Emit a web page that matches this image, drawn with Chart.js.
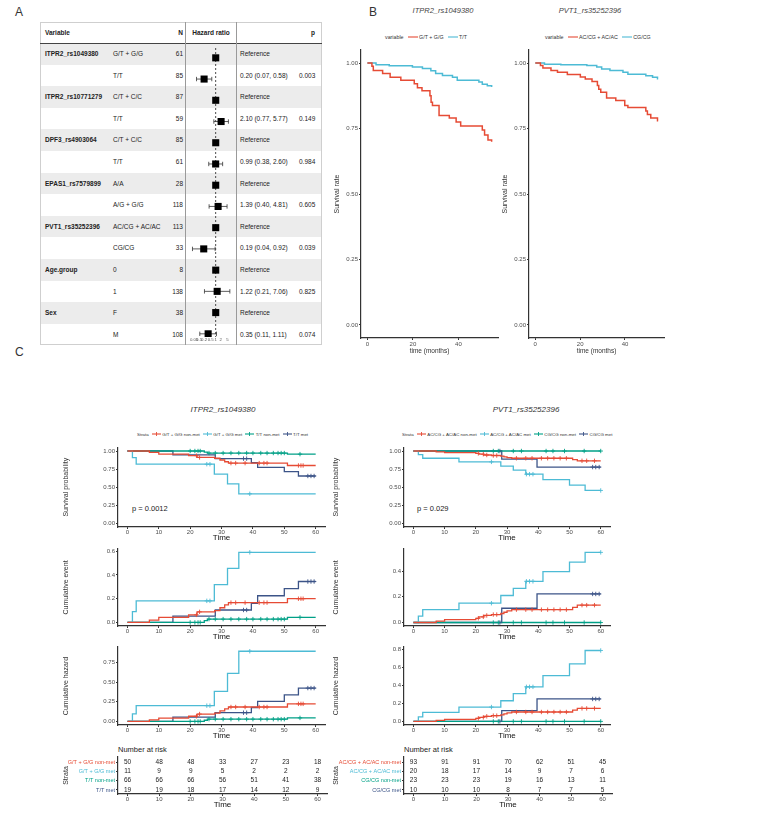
<!DOCTYPE html>
<html>
<head>
<meta charset="utf-8">
<script src="https://cdn.jsdelivr.net/npm/chart.js@4.4.1/dist/chart.umd.min.js"></script>
<style>
  html, body { margin: 0; padding: 0; background: #fff; }
  body { width: 767px; height: 818px; position: relative; overflow: hidden;
         font-family: "Liberation Sans", Arial, sans-serif; color: #222; }
  canvas, .t { position: absolute; }
  .t { white-space: nowrap; line-height: 1.2; }
  .box { position: absolute; }
  .leg { position: absolute; display: flex; align-items: center; white-space: nowrap; color: #333; }
  .sw { position: relative; display: inline-block; height: 6px; }
</style>
</head>
<body>
<div id="page"></div>
<canvas id="fp"></canvas>
<canvas id="bItpr"></canvas>
<canvas id="bPvt"></canvas>
<canvas id="cItprS"></canvas>
<canvas id="cPvtS"></canvas>
<canvas id="cItprE"></canvas>
<canvas id="cPvtE"></canvas>
<canvas id="cItprH"></canvas>
<canvas id="cPvtH"></canvas>
<canvas id="cItprR"></canvas>
<canvas id="cPvtR"></canvas>
<script>
// ---------- panel A: forest plot ----------
const fpVariable = ['ITPR2_rs1049380', '', 'ITPR2_rs10771279', '', 'DPF3_rs4903064', '', 'EPAS1_rs7579899', '',
                    'PVT1_rs35252396', '', 'Age.group', '', 'Sex', ''];
const fpLevel = ['G/T + G/G', 'T/T', 'C/T + C/C', 'T/T', 'C/T + C/C', 'T/T', 'A/A', 'A/G + G/G',
                 'AC/CG + AC/AC', 'CG/CG', '0', '1', 'F', 'M'];
const fpN = [61, 85, 87, 59, 85, 61, 28, 118, 113, 33, 8, 138, 38, 108];
const fpHR = [1, 0.20, 1, 2.10, 1, 0.99, 1, 1.39, 1, 0.19, 1, 1.22, 1, 0.35];
const fpLow = [null, 0.07, null, 0.77, null, 0.38, null, 0.40, null, 0.04, null, 0.21, null, 0.11];
const fpHigh = [null, 0.58, null, 5.77, null, 2.60, null, 4.81, null, 0.92, null, 7.06, null, 1.11];
const fpP = ['', '0.003', '', '0.149', '', '0.984', '', '0.605', '', '0.039', '', '0.825', '', '0.074'];
const fpTicks = [0.05, 0.1, 0.2, 0.5, 1, 2, 5];

// ---------- panel B: survival rate ----------
const bItprLabels = ['G/T + G/G', 'T/T'];
const bItprRedT = [0, 2, 2.6, 6.7, 10, 14.7, 20.6, 22, 24, 27.5, 28, 28.6, 31.5, 36, 39, 41, 50.5, 51.5, 53, 54.6];
const bItprRedV = [1, 0.988, 0.972, 0.96, 0.946, 0.934, 0.921, 0.906, 0.894, 0.875, 0.85, 0.838, 0.8, 0.79, 0.775, 0.76, 0.744, 0.725, 0.706, 0.70];
const bItprBlueT = [0, 3.8, 9.6, 19.8, 24.2, 27.9, 30, 33, 37.4, 39.5, 49, 50.5, 52.7, 54.6];
const bItprBlueV = [1, 0.994, 0.99, 0.985, 0.979, 0.971, 0.96, 0.953, 0.946, 0.934, 0.928, 0.919, 0.913, 0.909];
const bPvtLabels = ['AC/CG + AC/AC', 'CG/CG'];
const bPvtRedT = [0, 2.3, 3.4, 7, 9.9, 14.3, 20.1, 22.3, 25.3, 27.7, 28.3, 29.2, 31.8, 35.9, 39.9, 41.3, 49.3, 50, 51.5, 54.5, 54.8];
const bPvtRedV = [1, 0.991, 0.981, 0.972, 0.965, 0.956, 0.947, 0.939, 0.93, 0.914, 0.90, 0.889, 0.867, 0.857, 0.838, 0.83, 0.817, 0.804, 0.79, 0.78, 0.78];
const bPvtBlueT = [0, 4.1, 11.4, 23, 27.4, 29.6, 33.3, 39.1, 41.3, 49.3, 52.3, 54.5, 54.8];
const bPvtBlueV = [1, 0.996, 0.994, 0.991, 0.985, 0.977, 0.972, 0.965, 0.957, 0.952, 0.946, 0.94, 0.94];
const bXTicks = [0, 20, 40];
const bYTicks = [0, 0.25, 0.5, 0.75, 1];

// ---------- panel C: ITPR2_rs1049380 ----------
const cItprStrata = ['G/T + G/G non-met', 'G/T + G/G met', 'T/T non-met', 'T/T met'];
const cItprT = [
  [0, 7, 10, 19.5, 22.2, 27.8, 29.5, 31, 32.2, 51, 60],
  [0, 1.6, 2.8, 27.7, 31.9, 35.5, 60],
  [0, 24.5, 25.5, 51, 60],
  [0, 14.5, 28, 39.5, 41.5, 50, 54.5, 60]
];
const cItprSurv = [
  [1, 0.98, 0.958, 0.936, 0.911, 0.9, 0.876, 0.852, 0.833, 0.8, 0.8],
  [1, 0.909, 0.818, 0.682, 0.545, 0.409, 0.409],
  [1, 0.985, 0.972, 0.957, 0.957],
  [1, 0.947, 0.895, 0.838, 0.775, 0.715, 0.655, 0.655]
];
const cItprEvent = [
  [0, 0.02, 0.042, 0.064, 0.089, 0.1, 0.124, 0.148, 0.167, 0.2, 0.2],
  [0, 0.091, 0.182, 0.318, 0.455, 0.591, 0.591],
  [0, 0.015, 0.028, 0.043, 0.043],
  [0, 0.053, 0.105, 0.162, 0.225, 0.285, 0.345, 0.345]
];
const cItprHaz = [
  [0, 0.02, 0.043, 0.066, 0.094, 0.105, 0.134, 0.16, 0.183, 0.223, 0.223],
  [0, 0.095, 0.2, 0.38, 0.61, 0.89, 0.89],
  [0, 0.015, 0.029, 0.045, 0.045],
  [0, 0.054, 0.111, 0.177, 0.255, 0.336, 0.423, 0.423]
];
const cItprCens = [
  [22, 23, 33, 34.5, 37.5, 42, 43.5, 44.5, 54.5, 55.3, 56],
  [25.3, 26.3, 39],
  [20, 21.5, 22.5, 23.2, 26, 28, 30.5, 33, 35.5, 38, 40, 42.5, 44.5, 46.5, 48, 49, 50, 55],
  [37, 38, 57.5, 58.5, 59.5]
];
const cItprRisk = [[50, 48, 48, 33, 27, 23, 18], [11, 9, 9, 5, 2, 2, 2], [66, 66, 66, 56, 51, 41, 38], [19, 19, 18, 17, 14, 12, 9]];

// ---------- panel C: PVT1_rs35252396 ----------
const cPvtStrata = ['AC/CG + AC/AC non-met', 'AC/CG + AC/AC met', 'CG/CG non-met', 'CG/CG met'];
const cPvtT = [
  [0, 7.3, 10, 20, 21, 22.5, 25, 28, 29, 30, 31.5, 51, 52.5, 60],
  [0, 1.6, 3, 14.6, 28, 32, 36, 41.5, 50, 55, 60],
  [0, 60],
  [0, 28.3, 39.6, 60]
];
const cPvtSurv = [
  [1, 0.989, 0.978, 0.967, 0.956, 0.945, 0.938, 0.93, 0.92, 0.91, 0.9, 0.882, 0.865, 0.865],
  [1, 0.95, 0.9, 0.85, 0.79, 0.735, 0.68, 0.605, 0.53, 0.455, 0.455],
  [1, 1],
  [1, 0.889, 0.778, 0.778]
];
const cPvtEvent = [
  [0, 0.011, 0.022, 0.033, 0.044, 0.055, 0.062, 0.07, 0.08, 0.09, 0.1, 0.118, 0.135, 0.135],
  [0, 0.05, 0.1, 0.15, 0.21, 0.265, 0.32, 0.395, 0.47, 0.545, 0.545],
  [0, 0],
  [0, 0.111, 0.222, 0.222]
];
const cPvtHaz = [
  [0, 0.011, 0.022, 0.034, 0.045, 0.057, 0.064, 0.073, 0.083, 0.094, 0.105, 0.125, 0.145, 0.145],
  [0, 0.05, 0.1, 0.16, 0.23, 0.31, 0.385, 0.51, 0.64, 0.79, 0.79],
  [0, 0],
  [0, 0.12, 0.25, 0.25]
];
const cPvtCens = [
  [20.8, 22.4, 23.5, 25.6, 26.7, 33, 36, 38, 41, 43, 45, 47, 49, 54, 55.5, 58],
  [25, 36.2, 37.2, 38.3, 60],
  [25.6, 27.2, 32, 34.6, 42.5, 44.7, 48.4, 54.7, 60],
  [27.7, 57.4, 58.4, 59.5]
];
const cPvtRisk = [[93, 91, 91, 70, 62, 51, 45], [20, 18, 17, 14, 9, 7, 6], [23, 23, 23, 19, 16, 13, 11], [10, 10, 10, 8, 7, 7, 5]];

const cXTicks = [0, 10, 20, 30, 40, 50, 60];
const riskTimes = [0, 10, 20, 30, 40, 50, 60];
const npg = ['#E64B35', '#4DBBD5', '#00A087', '#3C5488'];

// ---------- helpers ----------
const FONT = '"Liberation Sans", Arial, sans-serif';
Chart.defaults.font.family = FONT;
Chart.defaults.color = '#4d4d4d';
const page = document.getElementById('page');

function text(str, left, cy, size, style) {
  const d = document.createElement('div');
  d.className = 't';
  d.textContent = str;
  d.style.left = left + 'px';
  d.style.top = (cy - size * 0.6) + 'px';
  d.style.fontSize = size + 'px';
  if (style) Object.assign(d.style, style);
  page.appendChild(d);
  return d;
}
function rect(left, top, w, h, style) {
  const d = document.createElement('div');
  d.className = 'box';
  Object.assign(d.style, { left: left + 'px', top: top + 'px', width: w + 'px', height: h + 'px' }, style);
  page.appendChild(d);
}
function place(id, left, top, w, h) {
  const c = document.getElementById(id);
  c.width = w; c.height = h;
  c.style.left = left + 'px'; c.style.top = top + 'px';
  return c;
}
function pts(xs, ys) { return xs.map((x, i) => ({ x: x, y: ys[i] })); }
function stepAt(xs, ys, t) {
  let v = ys[0];
  for (let i = 0; i < xs.length; i++) if (xs[i] <= t) v = ys[i];
  return v;
}
function swatch(color, cross, w, ml) {
  const s = document.createElement('span');
  s.className = 'sw';
  s.style.width = w + 'px';
  s.style.margin = '0 1.5px 0 ' + ml + 'px';
  s.innerHTML = '<svg width="' + w + '" height="6" style="position:absolute;left:0;top:0">' +
    '<line x1="0" y1="3" x2="' + w + '" y2="3" stroke="' + color + '" stroke-width="1.1"/>' +
    (cross ? '<line x1="' + w / 2 + '" y1="1" x2="' + w / 2 + '" y2="5" stroke="' + color + '" stroke-width="0.9"/>' : '') + '</svg>';
  return s;
}
function legend(title, labels, colors, left, cy, size, cross, w, ml) {
  const d = document.createElement('div');
  d.className = 'leg';
  d.style.left = left + 'px';
  d.style.top = (cy - 4) + 'px';
  d.style.height = '8px';
  d.style.fontSize = size + 'px';
  const t = document.createElement('span');
  t.textContent = title;
  d.appendChild(t);
  labels.forEach((l, i) => {
    d.appendChild(swatch(colors[i], cross, w, ml));
    const s = document.createElement('span');
    s.textContent = l;
    d.appendChild(s);
  });
  page.appendChild(d);
}

function axis(o) {
  return {
    type: 'linear', min: o.min, max: o.max, reverse: !!o.reverse,
    afterBuildTicks: s => { s.ticks = o.ticks.map(v => ({ value: v })); },
    afterFit: s => { if (o.h !== undefined) s.height = o.h; if (o.w !== undefined) s.width = o.w; },
    grid: { display: true, drawOnChartArea: false, drawTicks: true, tickLength: 2, color: '#333', lineWidth: 1 },
    border: { display: true, color: '#333', width: o.bw || 1.2 },
    ticks: {
      autoSkip: false, maxRotation: 0, padding: o.tickPad === undefined ? 1 : o.tickPad,
      font: { size: o.tickSize || 6 }, color: o.tickColor || '#4d4d4d',
      callback: o.fmt || (v => String(v))
    },
    title: {
      display: !!o.title, text: o.title,
      font: { size: o.titleSize || 7 }, color: o.titleColor || '#333',
      padding: o.titlePad || { top: 0, bottom: 0 }
    }
  };
}

// Kaplan-Meier style step curves: horizontal first, then the drop at each time
function kmChart(id, box, times, values, colors, cens, xo, yo, lw) {
  const c = place(id, box.left, box.top, box.w, box.h);
  const datasets = [];
  if (cens) {
    cens.forEach((cs, i) => datasets.push({
      type: 'scatter', showLine: false,
      data: cs.map(t => ({ x: t, y: stepAt(times[i], values[i], t) })),
      pointStyle: 'cross', pointRadius: 2.2, borderColor: colors[i], borderWidth: 0.9
    }));
  }
  times.forEach((t, i) => datasets.push({
    type: 'line', data: pts(t, values[i]), stepped: 'before',
    borderColor: colors[i], borderWidth: lw || 1.3, pointRadius: 0, fill: false
  }));
  return new Chart(c, {
    type: 'line',
    data: { datasets },
    options: {
      responsive: false, animation: false, events: [],
      layout: { padding: { top: box.pt, right: box.pr, left: 0, bottom: 0 } },
      plugins: { legend: { display: false }, tooltip: { enabled: false } },
      scales: { x: axis(xo), y: axis(yo) }
    }
  });
}

// ---------- panel A drawing ----------
text('A', 15, 12, 12, { color: '#333' });
rect(40, 22, 282, 323, { border: '1px solid #cfcfcf', boxSizing: 'border-box' });
const rowH = 21.6, row0 = 43;
for (let i = 0; i < fpVariable.length; i++) {
  const top = row0 + i * rowH, cy = top + rowH / 2;
  if (i % 2 === 0) rect(41, top, 280, rowH, { background: '#ececec' });
  if (fpVariable[i]) text(fpVariable[i], 45, cy, 6.5, { fontWeight: 'bold' });
  text(fpLevel[i], 113, cy, 6.5);
  text(String(fpN[i]), 150, cy, 6.5, { width: '33px', textAlign: 'right' });
  const est = fpLow[i] === null ? 'Reference'
    : fpHR[i].toFixed(2) + ' (' + fpLow[i].toFixed(2) + ', ' + fpHigh[i].toFixed(2) + ')';
  text(est, 240, cy, 6.5);
  if (fpP[i]) text(fpP[i], 299, cy, 6.5);
}
rect(40, 42.5, 282, 1, { background: '#444' });
rect(185, 22, 1, 323, { background: '#9a9a9a' });
rect(236, 22, 1, 323, { background: '#9a9a9a' });
text('Variable', 45, 33, 6.5, { fontWeight: 'bold' });
text('N', 150, 33, 6.5, { fontWeight: 'bold', width: '33px', textAlign: 'right' });
text('Hazard ratio', 186, 33, 6.5, { fontWeight: 'bold', width: '50px', textAlign: 'center' });
text('p', 311, 33, 6.5, { fontWeight: 'bold' });

(function () {
  const c = place('fp', 185, 43, 51, 302);
  const yMin = 0.537, yMax = 14.15;
  const squares = fpHR.map((v, i) => ({ x: v, y: i + 1 }));
  const datasets = [{
    type: 'scatter', data: squares, pointStyle: 'rect', pointRadius: 5,
    backgroundColor: '#000', borderColor: '#000', borderWidth: 0
  }];
  fpLow.forEach((lo, i) => {
    if (lo === null) return;
    datasets.push({
      type: 'line', data: [{ x: lo, y: i + 1 }, { x: fpHigh[i], y: i + 1 }],
      borderColor: '#333', borderWidth: 0.8, pointStyle: 'line', rotation: 90,
      pointRadius: 2.2, pointBorderColor: '#333', pointBorderWidth: 0.8
    });
  });
  datasets.push({
    type: 'line', data: [{ x: 1, y: yMin }, { x: 1, y: yMax + 0.35 }],
    borderColor: '#222', borderWidth: 0.8, borderDash: [2, 2], pointRadius: 0
  });
  new Chart(c, {
    type: 'scatter',
    data: { datasets },
    options: {
      responsive: false, animation: false, events: [],
      layout: { padding: 0 },
      plugins: { legend: { display: false }, tooltip: { enabled: false } },
      scales: {
        x: {
          type: 'logarithmic', min: 0.0284, max: 8.28,
          afterBuildTicks: s => { s.ticks = fpTicks.map(v => ({ value: v })); },
          afterFit: s => { s.height = 8; },
          grid: { display: false, drawTicks: false }, border: { display: false },
          ticks: { autoSkip: false, maxRotation: 0, padding: 0, font: { size: 4.3 }, color: '#555', callback: v => String(v) }
        },
        y: { type: 'linear', min: yMin, max: yMax, reverse: true, display: false }
      }
    }
  });
})();

// ---------- panel B drawing ----------
text('B', 369, 12, 12, { color: '#333' });
text('ITPR2_rs1049380', 403, 10, 7.5, { fontStyle: 'italic', color: '#444', width: '80px', textAlign: 'center' });
text('PVT1_rs35252396', 550, 10, 7.5, { fontStyle: 'italic', color: '#444', width: '80px', textAlign: 'center' });
legend('variable', bItprLabels, [npg[0], npg[1]], 385, 37, 5.3, false, 10, 4);
legend('variable', bPvtLabels, [npg[0], npg[1]], 545, 37, 5.3, false, 10, 4);

const bY = { min: -0.05, max: 1.05, ticks: bYTicks, fmt: v => v.toFixed(2), title: 'Survival rate', titleSize: 7, bw: 1.2 };
const bX = { min: -2.8, max: 57.4, ticks: bXTicks, h: 18, title: 'time (months)', titleSize: 6.5, titlePad: { top: 0, bottom: 1 } };
kmChart('bItpr', { left: 330, top: 44, w: 170, h: 312, pt: 6, pr: 2 },
  [bItprRedT, bItprBlueT], [bItprRedV, bItprBlueV], [npg[0], npg[1]], null,
  bX, Object.assign({ w: 31, titlePad: { top: 3, bottom: 0 } }, bY), 1.5);
kmChart('bPvt', { left: 500, top: 44, w: 166, h: 312, pt: 6, pr: 2 },
  [bPvtRedT, bPvtBlueT], [bPvtRedV, bPvtBlueV], [npg[0], npg[1]], null,
  bX, Object.assign({ w: 29, titlePad: { top: 1, bottom: 0 } }, bY), 1.5);

// ---------- panel C drawing ----------
text('C', 15, 352, 12, { color: '#333' });
text('ITPR2_rs1049380', 173, 410, 8, { fontStyle: 'italic', color: '#333', width: '100px', textAlign: 'center' });
text('PVT1_rs35252396', 476, 410, 8, { fontStyle: 'italic', color: '#333', width: '100px', textAlign: 'center' });
legend('Strata', cItprStrata, npg, 137, 434, 4.4, true, 9, 3);
legend('Strata', cPvtStrata, npg, 402, 434, 4.4, true, 9, 3);

const cols = [
  { key: 'Itpr', left: 60, w: 270, yw: 58, T: cItprT, S: cItprSurv, E: cItprEvent, H: cItprHaz, cens: cItprCens, risk: cItprRisk, strata: cItprStrata,
    ev: { min: -0.03, max: 0.62, ticks: [0, 0.2, 0.4, 0.6], pt: 3.6 },
    hz: { min: -0.045, max: 0.945, ticks: [0, 0.25, 0.5, 0.75], pt: 4.1, dec: 2 },
    p: 'p = 0.0012', px: 132, nx: 118 },
  { key: 'Pvt', left: 330, w: 285, yw: 74, T: cPvtT, S: cPvtSurv, E: cPvtEvent, H: cPvtHaz, cens: cPvtCens, risk: cPvtRisk, strata: cPvtStrata,
    ev: { min: -0.027, max: 0.572, ticks: [0, 0.2, 0.4], pt: 2.7 },
    hz: { min: -0.04, max: 0.83, ticks: [0, 0.2, 0.4, 0.6, 0.8], pt: 4.3, dec: 1 },
    p: 'p = 0.029', px: 417, nx: 404 }
];
const cX = { min: -3, max: 63, ticks: cXTicks, h: 16, tickPad: 0, title: 'Time', titleSize: 8, titleColor: '#111' };
const yTitlePad = { top: 2, bottom: 0 };

cols.forEach(col => {
  kmChart('c' + col.key + 'S', { left: col.left, top: 441, w: col.w, h: 102, pt: 6.4, pr: 3 },
    col.T, col.S, npg, col.cens, cX,
    { min: -0.05, max: 1.05, ticks: [0, 0.25, 0.5, 0.75, 1], fmt: v => v.toFixed(2), w: col.yw, title: 'Survival probability', titlePad: yTitlePad });
  kmChart('c' + col.key + 'E', { left: col.left, top: 544, w: col.w, h: 98, pt: col.ev.pt, pr: 3 },
    col.T, col.E, npg, col.cens, cX,
    { min: col.ev.min, max: col.ev.max, ticks: col.ev.ticks, fmt: v => v.toFixed(1), w: col.yw, title: 'Cumulative event', titlePad: yTitlePad });
  kmChart('c' + col.key + 'H', { left: col.left, top: 642, w: col.w, h: 99, pt: col.hz.pt, pr: 3 },
    col.T, col.H, npg, col.cens, cX,
    { min: col.hz.min, max: col.hz.max, ticks: col.hz.ticks, fmt: v => v.toFixed(col.hz.dec), w: col.yw, title: 'Cumulative hazard', titlePad: yTitlePad });
  text(col.p, col.px, 508, 7.5, { color: '#222' });
  text('Number at risk', col.nx, 749, 7.5, { color: '#222' });

  // number-at-risk table
  const c = place('c' + col.key + 'R', col.left, 751, col.w, 59);
  const datasets = col.risk.map((row, i) => ({
    type: 'scatter', pointRadius: 0,
    data: row.map((n, j) => ({ x: riskTimes[j], y: i + 1, n: n }))
  }));
  const riskText = {
    id: 'riskText',
    afterDatasetsDraw(chart) {
      const ctx = chart.ctx;
      ctx.save();
      ctx.font = '6.5px ' + FONT;
      ctx.fillStyle = '#222';
      ctx.textAlign = 'center';
      ctx.textBaseline = 'middle';
      chart.data.datasets.forEach((ds, di) => {
        chart.getDatasetMeta(di).data.forEach((el, j) => ctx.fillText(String(ds.data[j].n), el.x, el.y));
      });
      ctx.restore();
    }
  };
  const yR = axis({ min: 0.46, max: 4.43, reverse: true, ticks: [1, 2, 3, 4], w: col.yw, title: 'Strata', titlePad: yTitlePad,
    tickSize: 5.5, fmt: (v, i) => col.strata[i] });
  yR.ticks.color = ctx => npg[ctx.index];
  new Chart(c, {
    type: 'scatter',
    data: { datasets },
    options: {
      responsive: false, animation: false, events: [],
      layout: { padding: { top: 6, right: 3, left: 0, bottom: 0 } },
      plugins: { legend: { display: false }, tooltip: { enabled: false } },
      scales: { x: axis(cX), y: yR }
    },
    plugins: [riskText]
  });
});
</script>
</body>
</html>
